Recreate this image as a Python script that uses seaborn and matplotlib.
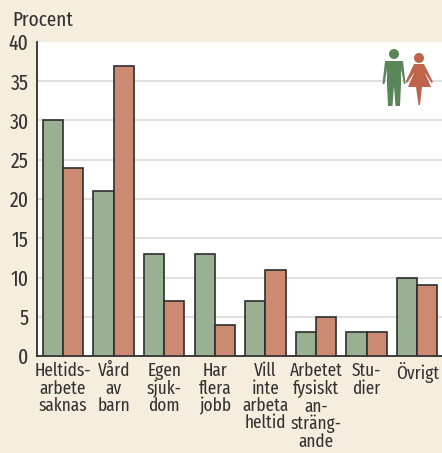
import matplotlib
matplotlib.use("Agg")
import matplotlib.pyplot as plt
import seaborn as sns
import pandas as pd
from matplotlib.patches import Polygon, Circle
from matplotlib.transforms import Affine2D
from matplotlib import font_manager as fm

categories = ["Heltids-\narbete\nsaknas", "Vård\nav\nbarn", "Egen\nsjuk-\ndom", "Har\nflera\njobb",
              "Vill\ninte\narbeta\nheltid", "Arbetet\nfysiskt\nan-\nsträng-\nande", "Stu-\ndier", "Övrigt"]
men = [30, 21, 13, 13, 7, 3, 3, 10]
women = [24, 37, 7, 4, 11, 5, 3, 9]
yticks = [0, 5, 10, 15, 20, 25, 30, 35, 40]

W, H = 442, 453
BG = "#F5EEDF"
names = {f.name for f in fm.fontManager.ttflist}
font = next(n for n in ["Fira Sans Extra Condensed", "Fira Sans Condensed", "PT Sans Narrow", "Roboto Condensed", "Lato", "Liberation Sans"] if n in names)
TXT = "#333333"

df = pd.DataFrame({"cat": categories * 2, "val": men + women,
                   "kon": ["Män"] * len(men) + ["Kvinnor"] * len(women)})

sns.set_theme(style="white")
plt.rcParams["font.family"] = [font, "DejaVu Sans"]
fig = plt.figure(figsize=(W / 100, H / 100), dpi=100, facecolor=BG)
ax = fig.add_axes([37 / W, 1 - 356 / H, (W - 37) / W, (356 - 42) / H])
sns.barplot(data=df, x="cat", y="val", hue="kon", hue_order=["Män", "Kvinnor"],
            palette=["#9AB093", "#CD8A73"], saturation=1, order=categories, width=0.8, gap=0,
            edgecolor="#2E2E2E", linewidth=1.2, legend=False, ax=ax, zorder=3)
ax.set_xlim(-0.514, 7.49)
ax.set_ylim(0, 40)
ax.set_xlabel("")
ax.set_ylabel("")
ax.set_yticks(yticks)
for y in yticks[1:-1]:
    ax.axhline(y, color="#E0E0E0", lw=1.5, zorder=0)
ax.tick_params(axis="both", length=0, labelcolor=TXT)
ax.tick_params(axis="y", labelsize=15.5, pad=6)
ax.tick_params(axis="x", labelsize=13.5, pad=4.5)
for lab in ax.get_xticklabels():
    lab.set_linespacing(0.97)
for s in ["top", "right"]:
    ax.spines[s].set_visible(False)
for s in ["left", "bottom"]:
    ax.spines[s].set_color("#2E2E2E")
    ax.spines[s].set_linewidth(1.3)
fig.text(12 / W, 1 - 20 / H, "Procent", fontsize=15, color=TXT, va="center", ha="left")

# pictogram placed in pixel coordinates (y downward)
px = Affine2D().scale(1, -1).translate(0, H)
G, R = "#5A8559", "#BF634A"
def add(p):
    p.set_transform(px)
    p.set_clip_on(False)
    p.set_zorder(5)
    fig.add_artist(p)
add(Circle((394, 54), 5, fc=G, ec="none"))
add(Polygon([(385, 61), (403, 61), (405.5, 84), (404, 84), (401, 69), (401, 85), (400, 106), (395.5, 106),
             (394, 86), (392.5, 106), (388, 106), (387, 85), (387, 69), (384.5, 84), (382.5, 84)],
            closed=True, fc=G, ec="none"))
add(Circle((419, 58), 5, fc=R, ec="none"))
add(Polygon([(414, 64), (424, 64), (433, 82), (431.5, 83), (424.5, 72), (431, 87), (422, 87), (420, 105),
             (418.5, 105), (416, 87), (408, 87), (414.5, 72), (407, 83), (405.5, 82)],
            closed=True, fc=R, ec="none"))
fig.savefig("out.png", dpi=100, facecolor=BG)
